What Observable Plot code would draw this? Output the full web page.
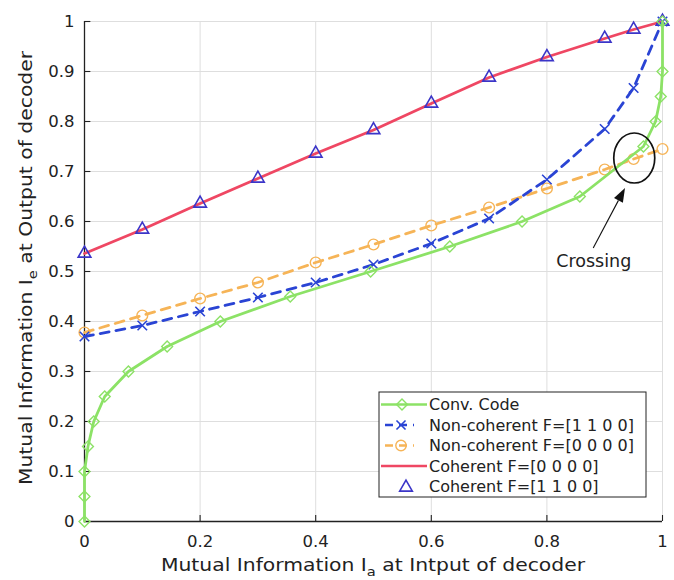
<!DOCTYPE html>
<html><head><meta charset="utf-8">
<script src="https://cdn.jsdelivr.net/npm/d3@7"></script>
<script src="https://cdn.jsdelivr.net/npm/@observablehq/plot@0.6"></script>
<style>body{margin:0;background:#fff;} svg{font-family:"DejaVu Sans";}</style>
</head><body><div id="chart"></div>
<script>
// ---- data ----
const convIa   = [0, 0, 0, 0.006, 0.016, 0.035, 0.076, 0.143, 0.235, 0.356, 0.495, 0.632, 0.757, 0.857, 0.967, 0.988, 0.997, 1, 1];
const convIe   = [0, 0.05, 0.1, 0.15, 0.2, 0.25, 0.3, 0.35, 0.4, 0.45, 0.5, 0.55, 0.6, 0.65, 0.75, 0.8, 0.85, 0.9, 1];
const ncIa     = [0, 0.1, 0.2, 0.3, 0.4, 0.5, 0.6, 0.7, 0.8, 0.9, 0.95, 1];
const nc1100Ie = [0.370, 0.392, 0.420, 0.448, 0.478, 0.514, 0.556, 0.606, 0.684, 0.785, 0.867, 1];
const nc0000Ie = [0.378, 0.412, 0.446, 0.478, 0.518, 0.554, 0.592, 0.628, 0.666, 0.704, 0.725, 0.745];
const cohIa    = [0, 0.1, 0.2, 0.3, 0.4, 0.5, 0.6, 0.7, 0.8, 0.9, 0.95, 1];
const coh0000Ie = [0.536, 0.584, 0.636, 0.686, 0.736, 0.783, 0.836, 0.888, 0.929, 0.966, 0.984, 1];
const coh1100Ie = [0.536, 0.584, 0.636, 0.686, 0.736, 0.783, 0.836, 0.888, 0.929, 0.966, 0.984, 1];
const xTicks = [0, 0.2, 0.4, 0.6, 0.8, 1];
const yTicks = [0, 0.1, 0.2, 0.3, 0.4, 0.5, 0.6, 0.7, 0.8, 0.9, 1];
const seriesNames = ["Conv. Code", "Non-coherent F=[1 1 0 0]", "Non-coherent F=[0 0 0 0]", "Coherent F=[0 0 0 0]", "Coherent F=[1 1 0 0]"];
const crossing = {label: "Crossing", x: 0.952, y: 0.726, textX: 0.882, textY: 0.52, tailX: 0.881, tailY: 0.546, headX: 0.936, headY: 0.666};

const GREEN = "#8ce266", BLUE = "#2a44d4", ORANGE = "#f6b457", RED = "#ef4763", TRI = "#3b35c8";

const conv = convIa.map((x, i) => ({x, y: convIe[i]}));
const nc1 = ncIa.map((x, i) => ({x, y: nc1100Ie[i]}));
const nc0 = ncIa.map((x, i) => ({x, y: nc0000Ie[i]}));
const coh0 = cohIa.map((x, i) => ({x, y: coh0000Ie[i]}));
const coh1 = cohIa.map((x, i) => ({x, y: coh1100Ie[i]}));

const fmt = d3.format("~g");

function annotationMark(index, {x, y}) {
  const g = d3.create("svg:g");
  g.append("ellipse").attr("cx", x(crossing.x)).attr("cy", y(crossing.y))
    .attr("rx", 20.5).attr("ry", 25).attr("fill", "none").attr("stroke", "#111").attr("stroke-width", 1.7);
  const x1 = x(crossing.tailX), y1 = y(crossing.tailY), x2 = x(crossing.headX), y2 = y(crossing.headY);
  const ang = Math.atan2(y2 - y1, x2 - x1), L = 14, W = 5;
  const bx = x2 - L * Math.cos(ang), by = y2 - L * Math.sin(ang);
  g.append("line").attr("x1", x1).attr("y1", y1).attr("x2", bx).attr("y2", by).attr("stroke", "#111").attr("stroke-width", 1.1);
  const px = -Math.sin(ang) * W, py = Math.cos(ang) * W;
  g.append("path").attr("d", `M${x2},${y2}L${bx + px},${by + py}L${bx - px},${by - py}Z`).attr("fill", "#111");
  g.append("text").attr("x", x(crossing.textX)).attr("y", y(crossing.textY)).attr("dy", "0.35em")
    .attr("text-anchor", "middle").attr("font-size", 17.5).attr("fill", "#222").text(crossing.label);
  return g.node();
}

function labelsMark(index, scales, values, dims) {
  const g = d3.create("svg:g").attr("fill", "#222").attr("font-size", 18);
  const cx = (dims.marginLeft + dims.width - dims.marginRight) / 2;
  const cy = (dims.marginTop + dims.height - dims.marginBottom) / 2 - 3;
  const tx = g.append("text").attr("transform", `translate(${cx},571) scale(1.13,1)`).attr("text-anchor", "middle");
  tx.append("tspan").text("Mutual Information I");
  tx.append("tspan").attr("font-size", 13).attr("dy", 5).text("a");
  tx.append("tspan").attr("dy", -5).text(" at Intput of decoder");
  const ty = g.append("text").attr("transform", `translate(32,${cy}) rotate(-90) scale(1.13,1)`).attr("text-anchor", "middle");
  ty.append("tspan").text("Mutual Information I");
  ty.append("tspan").attr("font-size", 13).attr("dy", 5).text("e");
  ty.append("tspan").attr("dy", -5).text(" at Output of decoder");
  return g.node();
}

function legendMark() {
  const g = d3.create("svg:g").attr("font-size", 16).attr("fill", "#222");
  const bx = 379, by = 392, bw = 267, bh = 105;
  g.append("rect").attr("x", bx).attr("y", by).attr("width", bw).attr("height", bh)
    .attr("fill", "white").attr("stroke", "#222").attr("stroke-width", 1);
  const rowY = i => by + 12.5 + i * 20.5;
  const sym = (type, r) => d3.symbol(type, Math.PI * r * r)();
  seriesNames.forEach((name, i) => {
    const yy = rowY(i);
    const row = g.append("g");
    if (i === 0) {
      row.append("line").attr("x1", 381).attr("x2", 427).attr("y1", yy).attr("y2", yy).attr("stroke", GREEN).attr("stroke-width", 2.6);
      row.append("path").attr("d", sym(d3.symbolDiamond2, 4.9)).attr("transform", `translate(402,${yy})`).attr("fill", "none").attr("stroke", GREEN).attr("stroke-width", 1.4);
    } else if (i === 1) {
      row.append("line").attr("x1", 385).attr("x2", 414).attr("y1", yy).attr("y2", yy).attr("stroke", BLUE).attr("stroke-width", 2.6).attr("stroke-dasharray", "8,6");
      row.append("path").attr("d", sym(d3.symbolTimes, 4.2)).attr("transform", `translate(401,${yy})`).attr("fill", "none").attr("stroke", BLUE).attr("stroke-width", 1.6);
    } else if (i === 2) {
      row.append("line").attr("x1", 385).attr("x2", 414).attr("y1", yy).attr("y2", yy).attr("stroke", ORANGE).attr("stroke-width", 2.6).attr("stroke-dasharray", "8,6");
      row.append("circle").attr("cx", 401).attr("cy", yy).attr("r", 5.2).attr("fill", "none").attr("stroke", ORANGE).attr("stroke-width", 1.4);
    } else if (i === 3) {
      row.append("line").attr("x1", 381).attr("x2", 427).attr("y1", yy).attr("y2", yy).attr("stroke", RED).attr("stroke-width", 2.6);
    } else {
      row.append("path").attr("d", sym(d3.symbolTriangle, 4.7)).attr("transform", `translate(406,${yy + 1})`).attr("fill", "none").attr("stroke", TRI).attr("stroke-width", 1.6);
    }
    row.append("text").attr("x", 429).attr("y", yy).attr("dy", "0.35em").attr("text-anchor", "start").text(name);
  });
  return g.node();
}

const chart = Plot.plot({
  width: 674, height: 580,
  marginLeft: 84, marginRight: 12, marginTop: 21, marginBottom: 59,
  style: {fontFamily: "DejaVu Sans", fontSize: "16px", background: "white", color: "#222"},
  x: {domain: [0, 1], label: null},
  y: {domain: [0, 1], label: null},
  marks: [
    Plot.gridX(xTicks, {stroke: "#dedede", strokeOpacity: 1, strokeWidth: 1}),
    Plot.gridY(yTicks, {stroke: "#dedede", strokeOpacity: 1, strokeWidth: 1}),
    Plot.axisX(xTicks, {tickSize: 0, tickPadding: 14, tickFormat: fmt, label: null, fontSize: 16.5, fill: "#222"}),
    Plot.axisY(yTicks, {tickSize: 0, tickPadding: 10, tickFormat: fmt, label: null, fontSize: 16.5, fill: "#222"}),
    Plot.ruleX([0], {stroke: "#222", strokeWidth: 1.3}),
    Plot.ruleY([0], {stroke: "#222", strokeWidth: 1.3}),
    Plot.ruleX(xTicks, {y1: 0, y2: 0.012, stroke: "#222", strokeWidth: 1.1}),
    Plot.ruleY(yTicks, {x1: 0, x2: 0.011, stroke: "#222", strokeWidth: 1.1}),
    // red coherent line
    Plot.line(coh0, {x: "x", y: "y", stroke: RED, strokeWidth: 2.8}),
    Plot.dot(coh1, {x: "x", y: "y", symbol: "triangle", r: 4.7, stroke: TRI, fill: "none", strokeWidth: 1.6}),
    // orange non-coherent 0000
    Plot.line(nc0, {x: "x", y: "y", stroke: ORANGE, strokeWidth: 2.8, strokeDasharray: "9,7"}),
    Plot.dot(nc0, {x: "x", y: "y", symbol: "circle", r: 5.4, stroke: ORANGE, fill: "none", strokeWidth: 1.4}),
    // blue non-coherent 1100
    Plot.line(nc1, {x: "x", y: "y", stroke: BLUE, strokeWidth: 2.8, strokeDasharray: "9,7"}),
    Plot.dot(nc1, {x: "x", y: "y", symbol: "times", r: 4.4, stroke: BLUE, fill: "none", strokeWidth: 1.6}),
    // green conv code
    Plot.line(conv, {x: "x", y: "y", stroke: GREEN, strokeWidth: 2.8}),
    Plot.dot(conv, {x: "x", y: "y", symbol: "diamond2", r: 4.9, stroke: GREEN, fill: "none", strokeWidth: 1.4}),
    annotationMark,
    legendMark,
    labelsMark
  ]
});
document.getElementById("chart").appendChild(chart);
</script>
</body></html>
